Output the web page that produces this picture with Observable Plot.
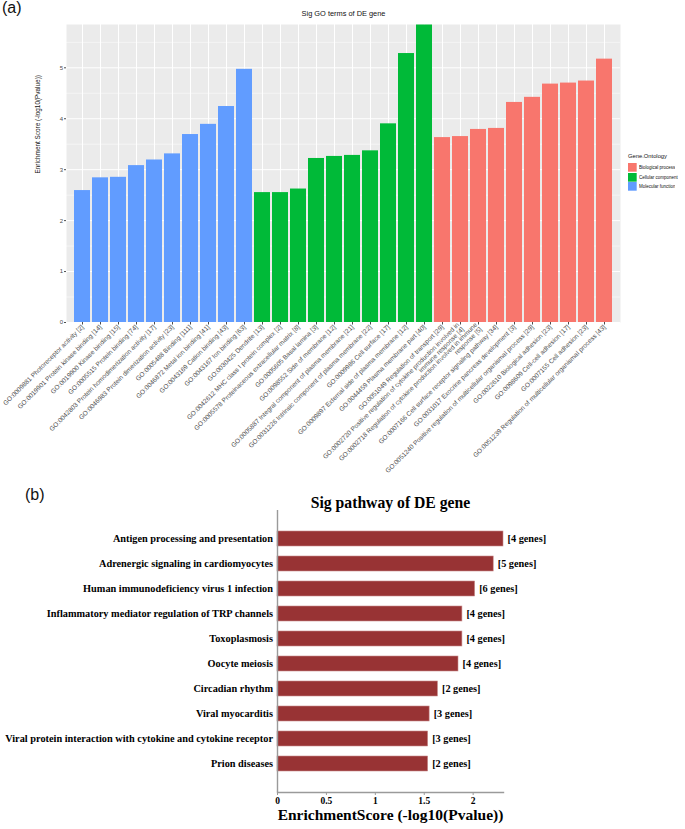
<!DOCTYPE html>
<html><head><meta charset="utf-8">
<script src="https://cdn.jsdelivr.net/npm/d3@7"></script>
<script src="https://cdn.jsdelivr.net/npm/@observablehq/plot@0.6"></script>
<style>
body{margin:0;background:#fff;}
#wrap{position:relative;width:685px;height:829px;overflow:hidden;font-family:"Liberation Sans",Arial,sans-serif;}
#wrap > *{position:absolute;}
</style></head><body><div id="wrap"></div>
<script>
// ---------- Panel (a): Sig GO terms ----------
const goTerms = [
  "GO:0009881 Photoreceptor activity [2]",
  "GO:0019901 Protein kinase binding [14]",
  "GO:0019900 Kinase binding [15]",
  "GO:0005515 Protein binding [74]",
  "GO:0042803 Protein homodimerization activity [17]",
  "GO:0046983 Protein dimerization activity [23]",
  "GO:0005488 Binding [111]",
  "GO:0046872 Metal ion binding [41]",
  "GO:0043169 Cation binding [43]",
  "GO:0043167 Ion binding [63]",
  "GO:0030425 Dendrite [13]",
  "GO:0042612 MHC class I protein complex [2]",
  "GO:0005578 Proteinaceous extracellular matrix [8]",
  "GO:0005605 Basal lamina [3]",
  "GO:0098552 Side of membrane [12]",
  "GO:0005887 Integral component of plasma membrane [21]",
  "GO:0031226 Intrinsic component of plasma membrane [22]",
  "GO:0009986 Cell surface [17]",
  "GO:0009897 External side of plasma membrane [12]",
  "GO:0044459 Plasma membrane part [40]",
  "GO:0051049 Regulation of transport [29]",
  "GO:0002720 Positive regulation of cytokine production involved in\nimmune response [4]",
  "GO:0002718 Regulation of cytokine production involved in immune\nresponse [5]",
  "GO:0007166 Cell surface receptor signaling pathway [34]",
  "GO:0031017 Exocrine pancreas development [3]",
  "GO:0051240 Positive regulation of multicellular organismal process [29]",
  "GO:0022610 Biological adhesion [23]",
  "GO:0098609 Cell-cell adhesion [17]",
  "GO:0007155 Cell adhesion [23]",
  "GO:0051239 Regulation of multicellular organismal process [43]"
];
const goScores = [
  2.59, 2.84, 2.85, 3.08, 3.19, 3.31, 3.69, 3.89, 4.24, 4.97,
  2.55, 2.55, 2.62, 3.22, 3.26, 3.28, 3.37, 3.90, 5.28, 5.84,
  3.63, 3.65, 3.79, 3.81, 4.32, 4.42, 4.68, 4.70, 4.74, 5.17
];
const goOntology = [
  "Molecular function","Molecular function","Molecular function","Molecular function","Molecular function",
  "Molecular function","Molecular function","Molecular function","Molecular function","Molecular function",
  "Cellular component","Cellular component","Cellular component","Cellular component","Cellular component",
  "Cellular component","Cellular component","Cellular component","Cellular component","Cellular component",
  "Biological process","Biological process","Biological process","Biological process","Biological process",
  "Biological process","Biological process","Biological process","Biological process","Biological process"
];
const ontologyNames = ["Biological process","Cellular component","Molecular function"];
const ontologyColors = ["#F8766D","#00BA38","#619CFF"];
const yTicksA = [0, 1, 2, 3, 4, 5];
const yMinorA = [0.5, 1.5, 2.5, 3.5, 4.5, 5.5];

// ---------- Panel (b): Sig pathways ----------
const pathways = [
  "Antigen processing and presentation",
  "Adrenergic signaling in cardiomyocytes",
  "Human immunodeficiency virus 1 infection",
  "Inflammatory mediator regulation of TRP channels",
  "Toxoplasmosis",
  "Oocyte meiosis",
  "Circadian rhythm",
  "Viral myocarditis",
  "Viral protein interaction with cytokine and cytokine receptor",
  "Prion diseases"
];
const pathwayScores = [2.31, 2.21, 2.02, 1.89, 1.89, 1.85, 1.64, 1.555, 1.54, 1.54];
const pathwayGenes = [4, 5, 6, 4, 4, 4, 2, 3, 3, 2];
const xTicksB = [0, 0.5, 1, 1.5, 2];

const wrap = document.getElementById("wrap");

const goData = goTerms.map((t, i) => ({term: t, score: goScores[i], ontology: goOntology[i]}));

const plotA = Plot.plot({
  width: 685, height: 480,
  marginLeft: 66, marginRight: 65, marginTop: 24, marginBottom: 158,
  style: {fontFamily: "Liberation Sans, Arial, sans-serif", fontSize: "6px", background: "transparent", overflow: "visible"},
  x: {domain: goTerms, padding: 0.1, label: null},
  y: {domain: [0, 5.85], label: null},
  color: {domain: ontologyNames, range: ontologyColors},
  marks: [
    Plot.frame({fill: "#EBEBEB"}),
    Plot.gridY(yMinorA, {stroke: "white", strokeOpacity: 1, strokeWidth: 0.5}),
    Plot.gridY(yTicksA, {stroke: "white", strokeOpacity: 1, strokeWidth: 1}),
    Plot.gridX({stroke: "white", strokeOpacity: 1, strokeWidth: 1}),
    Plot.barY(goData, {x: "term", y: "score", fill: "ontology"}),
    Plot.axisY(yTicksA, {tickSize: 2, tickPadding: 1.5, fontSize: 6, color: "#4D4D4D", tickFormat: d => String(d), label: null}),
    Plot.axisX({tickSize: 2.5, tickPadding: 1, tickRotate: -45, fontSize: 6.5, color: "#4D4D4D", label: null}),
    Plot.text(["Sig GO terms of DE gene"], {text: d => d, frameAnchor: "top", dy: -14, fontSize: 7.4, fill: "#111"}),
    Plot.text(["Enrichment Score (-log10(Pvalue))"], {text: d => d, frameAnchor: "left", dx: -29, rotate: -90, fontSize: 6.4, fill: "#111"})
  ]
});
plotA.style.left = "0px"; plotA.style.top = "0px";
wrap.appendChild(plotA);

const pathData = pathways.map((p, i) => ({pathway: p, score: pathwayScores[i], genes: `[${pathwayGenes[i]} genes]`}));

const plotB = Plot.plot({
  width: 685, height: 339,
  marginLeft: 277, marginRight: 182, marginTop: 20, marginBottom: 37,
  style: {fontFamily: "Liberation Serif, 'Times New Roman', serif", fontWeight: "bold", background: "transparent", overflow: "visible"},
  x: {domain: [0, 2.31], label: null},
  y: {domain: pathways, paddingInner: 0.39, paddingOuter: 0.7, label: null},
  marks: [
    Plot.barX(pathData, {x: "score", y: "pathway", fill: "#983334", stroke: "#c98d8d", strokeWidth: 0.6}),
    Plot.text(pathData, {x: "score", y: "pathway", text: "genes", textAnchor: "start", dx: 4, fontSize: 10.3, fill: "black"}),
    Plot.ruleX([0], {stroke: "#9a9a9a", strokeWidth: 1.4}),
    Plot.frame({anchor: "bottom", stroke: "#9a9a9a", strokeWidth: 1.4}),
    Plot.axisY({tickSize: 0, tickPadding: 4.5, fontSize: 10.3, color: "black", label: null}),
    Plot.axisX(xTicksB, {tickSize: 3, tickPadding: 2, fontSize: 9.5, color: "black", tickFormat: d => String(d), label: null}),
    Plot.text(["Sig pathway of DE gene"], {text: d => d, frameAnchor: "top", dy: -13.5, fontSize: 15.7, fill: "black"}),
    Plot.text(["EnrichmentScore (-log10(Pvalue))"], {text: d => d, frameAnchor: "bottom", dy: 27, fontSize: 15.5, fill: "black"})
  ]
});
// gray tick marks on the bottom axis, as in the reference
d3.select(plotB).selectAll('g[aria-label="x-axis tick"]').attr("stroke", "#9a9a9a");
plotB.style.left = "0px"; plotB.style.top = "490px";
wrap.appendChild(plotB);

// panel tags
const tagA = document.createElement("div");
tagA.textContent = "(a)";
Object.assign(tagA.style, {left: "2px", top: "0px", fontSize: "16px", lineHeight: "1", color: "#111"});
wrap.appendChild(tagA);
const tagB = document.createElement("div");
tagB.textContent = "(b)";
Object.assign(tagB.style, {left: "25px", top: "487px", fontSize: "16px", lineHeight: "1", color: "#111"});
wrap.appendChild(tagB);

// legend
const legTitle = document.createElement("div");
legTitle.textContent = "Gene.Ontology";
Object.assign(legTitle.style, {left: "628px", top: "153.5px", fontSize: "5.8px", lineHeight: "1", color: "#111"});
wrap.appendChild(legTitle);
const legend = Plot.legend({
  color: {domain: ontologyNames, range: ontologyColors},
  columns: 1, swatchSize: 8.7,
  style: {fontSize: "4.5px", fontFamily: "Liberation Sans, Arial, sans-serif", color: "#111", margin: "0"}
});
legend.style.left = "628px"; legend.style.top = "163px";
wrap.appendChild(legend);
</script></body></html>
